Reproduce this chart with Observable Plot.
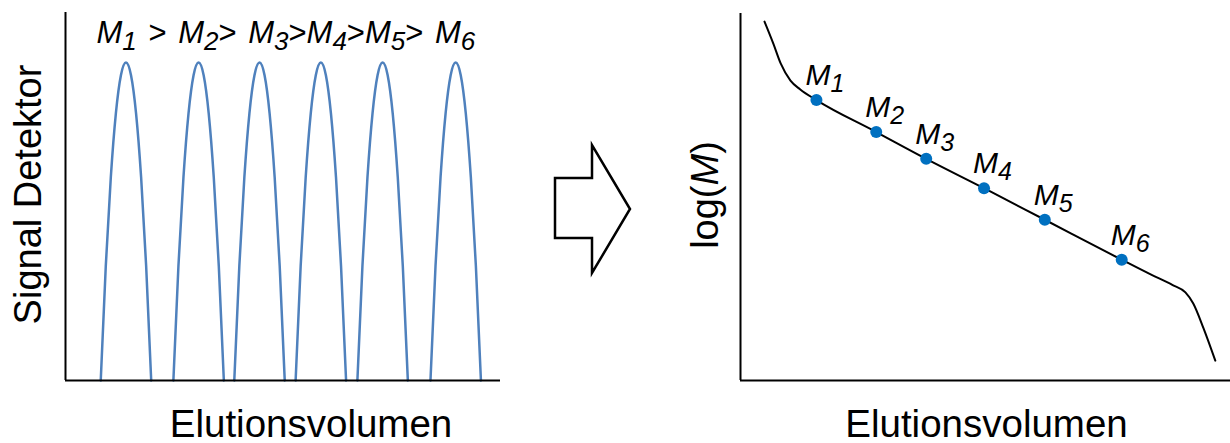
<!DOCTYPE html>
<html><head><meta charset="utf-8">
<script src="https://cdn.jsdelivr.net/npm/d3@7"></script>
<script src="https://cdn.jsdelivr.net/npm/@observablehq/plot@0.6"></script>
<style>
html,body{margin:0;padding:0;background:#fff;}
#wrap{position:relative;width:1230px;height:443px;overflow:hidden;font-family:"Liberation Sans",Arial,sans-serif;}
#left{position:absolute;left:0;top:0;}
#right{position:absolute;left:680px;top:0;}
#arrow{position:absolute;left:0;top:0;}
</style></head><body>
<div id="wrap">
<div id="left"></div>
<div id="right"></div>
<svg id="arrow" width="1230" height="443"><polygon points="555,178 592,178 592,145 630,209 592,273 592,238 555,238" fill="white" stroke="black" stroke-width="2.5" stroke-linejoin="miter"/></svg>
</div>
<script>
// ---------- data (left panel: detector signal vs elution volume) ----------
const peakLabels = ["M1", "M2", "M3", "M4", "M5", "M6"];
const peakCenters = [13.9, 30.6, 44.6, 58.7, 72.9, 89.7];     // Elutionsvolumen (0–100)
const peakHalfWidth = 5.8;
const peakHeight = 86.4;                                       // Signal (0–100)
const peakShapeT = [-1, -0.8, -0.6, -0.4, -0.2, 0, 0.2, 0.4, 0.6, 0.8, 1];
const peakShapeH = [0, 0.36, 0.64, 0.84, 0.96, 1, 0.96, 0.84, 0.64, 0.36, 0];
const orderLabel = "M1 > M2> M3>M4>M5> M6";

// ---------- data (right panel: calibration curve log(M) vs elution volume) ----------
const calibX = [4.9, 6.7, 8.2, 10.2, 12.2, 15.5, 27.7, 37.9, 49.7, 62.1, 77.8, 83.7, 88.2, 90.8, 92.4, 94.5, 96.9];
const calibY = [97.8, 91.8, 86.4, 81.7, 79.3, 76.4, 67.7, 60.4, 52.4, 43.8, 32.9, 28.9, 26.0, 24.0, 21.0, 14.2, 5.4];
const standardX = [15.5, 27.7, 37.9, 49.7, 62.1, 77.8];
const standardY = [76.4, 67.7, 60.4, 52.4, 43.8, 32.9];

const xTitle = "Elutionsvolumen";
const yTitleLeft = "Signal Detektor";
const yTitleRight = "log(M)";

// ---------- build tables ----------
const peakRows = peakCenters.flatMap((c, i) =>
  peakShapeT.map((t, j) => ({peak: peakLabels[i], x: c + t * peakHalfWidth, y: peakShapeH[j] * peakHeight})));
const calibRows = calibX.map((x, i) => ({x, y: calibY[i]}));
const standards = standardX.map((x, i) => ({x, y: standardY[i], label: peakLabels[i]}));

const FONT = "'Liberation Sans', Arial, sans-serif";
const SVGNS = "http://www.w3.org/2000/svg";

function richify(el, subSize, subShift) {
  const s = el.textContent;
  el.textContent = "";
  let shifted = false;
  const re = /(M)|(\d)|([^M\d]+)/g;
  let m;
  while ((m = re.exec(s))) {
    const ts = document.createElementNS(SVGNS, "tspan");
    if (m[1]) {
      ts.setAttribute("font-style", "italic");
      if (shifted) { ts.setAttribute("dy", -subShift); shifted = false; }
      ts.textContent = "M";
    } else if (m[2]) {
      ts.setAttribute("font-style", "italic");
      ts.setAttribute("font-size", subSize);
      ts.setAttribute("dy", subShift);
      shifted = true;
      ts.textContent = m[2];
    } else {
      if (shifted) { ts.setAttribute("dy", -subShift); shifted = false; }
      ts.textContent = m[3];
    }
    el.appendChild(ts);
  }
}

// ---------- left chart ----------
const left = Plot.plot({
  width: 510, height: 443,
  marginLeft: 65, marginRight: 10, marginTop: 12, marginBottom: 63,
  style: {fontFamily: FONT, background: "transparent", overflow: "visible", color: "black"},
  x: {domain: [0, 100], axis: null},
  y: {domain: [0, 100], axis: null},
  marks: [
    Plot.line(peakRows, {x: "x", y: "y", z: "peak", stroke: "#4f81bd", strokeWidth: 2.5, curve: "natural"}),
    Plot.ruleX([0], {stroke: "black", strokeWidth: 2}),
    Plot.ruleY([0], {stroke: "black", strokeWidth: 2}),
    Plot.text([orderLabel], {text: d => d, frameAnchor: "top-left", textAnchor: "start", lineAnchor: "bottom", dx: 31, dy: 30, fontSize: 31, fill: "black"}),
    Plot.text([yTitleLeft], {text: d => d, frameAnchor: "left", textAnchor: "middle", rotate: -90, lineAnchor: "bottom", dx: -25, dy: -2, fontSize: 38, fill: "black"}),
    Plot.text([xTitle], {text: d => d, frameAnchor: "bottom", textAnchor: "middle", lineAnchor: "bottom", dx: 28, dy: 56, fontSize: 38.5, fill: "black"})
  ]
});
document.getElementById("left").appendChild(left);

// ---------- right chart ----------
const right = Plot.plot({
  width: 550, height: 443,
  marginLeft: 60, marginRight: 0, marginTop: 13, marginBottom: 63,
  style: {fontFamily: FONT, background: "transparent", overflow: "visible", color: "black"},
  x: {domain: [0, 100], axis: null},
  y: {domain: [0, 100], axis: null},
  marks: [
    Plot.line(calibRows, {x: "x", y: "y", stroke: "black", strokeWidth: 2, curve: "monotone-x"}),
    Plot.dot(standards, {x: "x", y: "y", r: 6, fill: "#0070c0", stroke: "none"}),
    Plot.text(standards, {x: "x", y: "y", text: "label", textAnchor: "start", lineAnchor: "bottom", dx: -11, dy: -15, fontSize: 30, fill: "black"}),
    Plot.ruleX([0], {stroke: "black", strokeWidth: 2}),
    Plot.ruleY([0], {stroke: "black", strokeWidth: 2}),
    Plot.text([yTitleRight], {text: d => d, frameAnchor: "left", textAnchor: "middle", rotate: -90, lineAnchor: "bottom", dx: -23, dy: -2, fontSize: 38, fill: "black"}),
    Plot.text([xTitle], {text: d => d, frameAnchor: "bottom", textAnchor: "middle", lineAnchor: "bottom", dx: 1, dy: 56, fontSize: 38.5, fill: "black"})
  ]
});
document.getElementById("right").appendChild(right);

// rich text: italic M with subscripts
left.querySelectorAll("text").forEach(t => {
  if (t.textContent === orderLabel) { richify(t, 26, 7); t.setAttribute("word-spacing", "3px"); t.style.whiteSpace = "pre"; }
});
right.querySelectorAll("text").forEach(t => {
  if (/^M\d$/.test(t.textContent)) richify(t, 25, 7);
  else if (t.textContent === yTitleRight) richify(t, 38, 0);
});
</script>
</body></html>
